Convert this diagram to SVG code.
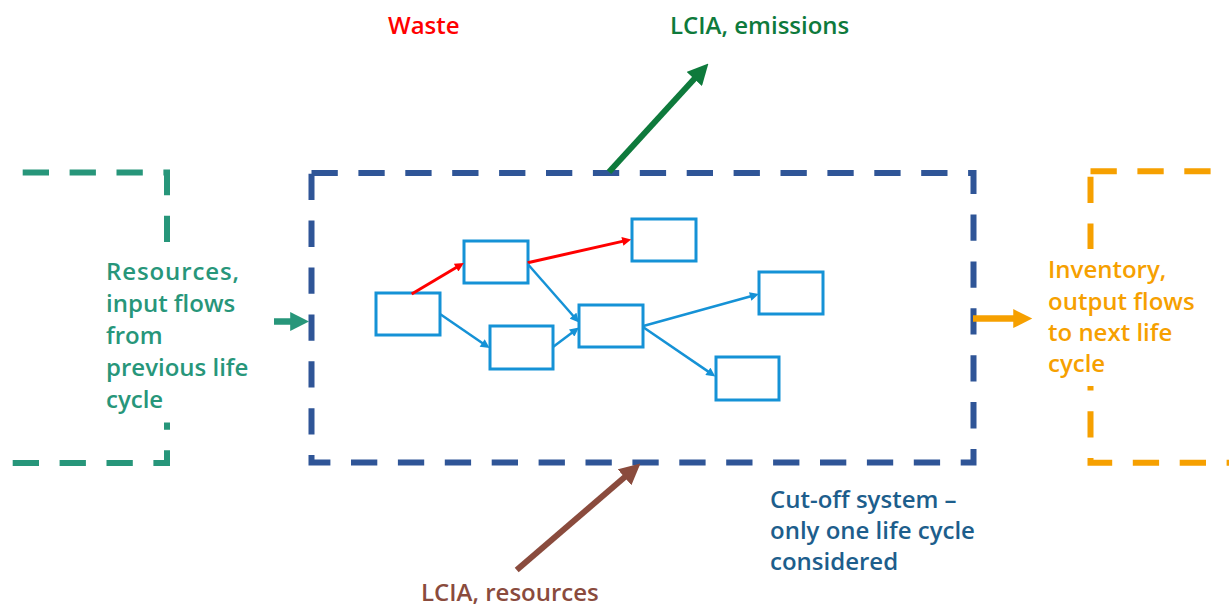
<svg xmlns="http://www.w3.org/2000/svg" width="1229" height="607" viewBox="0 0 1229 607">
<style>
text{font-family:"Open Sans","Noto Sans","Liberation Sans",sans-serif;font-size:24px;font-weight:600}
.box{fill:#fff;stroke:#1592D6;stroke-width:3}
.bl{stroke:#1592D6;stroke-width:2.5;fill:none}
.rd{stroke:#FF0000;stroke-width:3;fill:none}
.dash{fill:none;stroke-dasharray:26.3 20.6}
</style>
<defs>
<marker id="mb" viewBox="0 0 10 10" refX="5" refY="5" markerWidth="10" markerHeight="9" markerUnits="userSpaceOnUse" orient="auto"><path d="M0,0L10,5L0,10z" fill="#1592D6"/></marker>
<marker id="mr" viewBox="0 0 10 10" refX="5" refY="5" markerWidth="10" markerHeight="9" markerUnits="userSpaceOnUse" orient="auto"><path d="M0,0L10,5L0,10z" fill="#FF0000"/></marker>
<marker id="mg" viewBox="0 0 20 20" refX="8" refY="10" markerWidth="21" markerHeight="21" markerUnits="userSpaceOnUse" orient="auto"><path d="M0,0L20,10L0,20z" fill="#0E7A3C"/></marker>
<marker id="mbr" viewBox="0 0 20 20" refX="8" refY="10" markerWidth="21" markerHeight="21" markerUnits="userSpaceOnUse" orient="auto"><path d="M0,0L20,10L0,20z" fill="#8A4B3D"/></marker>
<marker id="mt" viewBox="0 0 20 20" refX="4" refY="10" markerWidth="19" markerHeight="19" markerUnits="userSpaceOnUse" orient="auto"><path d="M0,0L20,10L0,20z" fill="#27967A"/></marker>
<marker id="mo" viewBox="0 0 20 20" refX="5" refY="10" markerWidth="20" markerHeight="19" markerUnits="userSpaceOnUse" orient="auto"><path d="M0,0L20,10L0,20z" fill="#F6A000"/></marker>
</defs>

<g id="previous-life-cycle">
<path class="dash" d="M22.7,172.5H167V463H-10" stroke="#27967A" stroke-width="6"/>
<rect x="158" y="243" width="18" height="179.5" fill="#fff"/>
<text fill="#27967A"><tspan x="106" y="280" letter-spacing="0.9">Resources,</tspan><tspan x="106" y="312">input flows</tspan><tspan x="106" y="344">from</tspan><tspan x="106" y="376">previous life</tspan><tspan x="106" y="408">cycle</tspan></text>
</g>

<g id="next-life-cycle">
<path class="dash" d="M1090.5,171.2H1240" stroke="#F6A000" stroke-width="6"/>
<path class="dash" d="M1090.5,176.7V462.7H1240" stroke="#F6A000" stroke-width="6"/>
<rect x="1082" y="249" width="18" height="137" fill="#fff"/>
<text fill="#F6A000"><tspan x="1048" y="278">Inventory,</tspan><tspan x="1048" y="309.5">output flows</tspan><tspan x="1048" y="341">to next life</tspan><tspan x="1048" y="372">cycle</tspan></text>
</g>

<g id="cut-off-system">
<path class="dash" d="M311.5,173H973.5V462.5H311.5Z" stroke="#2F5597" stroke-width="6"/>
<text fill="#1D5E8C"><tspan x="770" y="508">Cut-off system –</tspan><tspan x="770" y="539">only one life cycle</tspan><tspan x="770" y="570">considered</tspan></text>
</g>

<g id="p1"><rect class="box" x="376" y="293" width="64" height="42"/></g>
<g id="p2"><rect class="box" x="464" y="241" width="64" height="42"/></g>
<g id="p3"><rect class="box" x="632" y="219" width="64" height="42"/></g>
<g id="p4"><rect class="box" x="490" y="326" width="63" height="43"/></g>
<g id="p5"><rect class="box" x="579" y="305" width="64" height="42"/></g>
<g id="p6"><rect class="box" x="759" y="272" width="64" height="42"/></g>
<g id="p7"><rect class="box" x="716" y="357" width="63" height="43"/></g>

<g id="label-waste"><text x="388" y="34" fill="#FF0000">Waste</text></g>
<g id="label-emissions"><text x="670" y="34" fill="#0E7A3C">LCIA, emissions</text></g>
<g id="label-resources"><text x="421" y="601" fill="#8A4B3D" font-size="23.6">LCIA, resources</text></g>

<g id="connectors">
<line class="rd" x1="411.7" y1="294" x2="460" y2="265.3" marker-end="url(#mr)"/>
<line class="rd" x1="527.7" y1="262.7" x2="626.8" y2="240.4" marker-end="url(#mr)"/>
<line class="bl" x1="527.7" y1="264" x2="576" y2="319" marker-end="url(#mb)"/>
<line class="bl" x1="440" y1="314" x2="485.9" y2="345.5" marker-end="url(#mb)"/>
<line class="bl" x1="553.3" y1="346.7" x2="575.3" y2="330.3" marker-end="url(#mb)"/>
<line class="bl" x1="643.3" y1="326" x2="754.5" y2="295.3" marker-end="url(#mb)"/>
<line class="bl" x1="643.3" y1="327.3" x2="711.6" y2="373.9" marker-end="url(#mb)"/>
<line x1="609" y1="172" x2="699.9" y2="72.8" stroke="#0E7A3C" stroke-width="6" marker-end="url(#mg)"/>
<line x1="516.7" y1="570" x2="630.9" y2="471.8" stroke="#8A4B3D" stroke-width="6" marker-end="url(#mbr)"/>
<line x1="274" y1="321.5" x2="294" y2="321.5" stroke="#27967A" stroke-width="6.5" marker-end="url(#mt)"/>
<line x1="973" y1="318.5" x2="1018" y2="318.5" stroke="#F6A000" stroke-width="6.5" marker-end="url(#mo)"/>
</g>
</svg>
